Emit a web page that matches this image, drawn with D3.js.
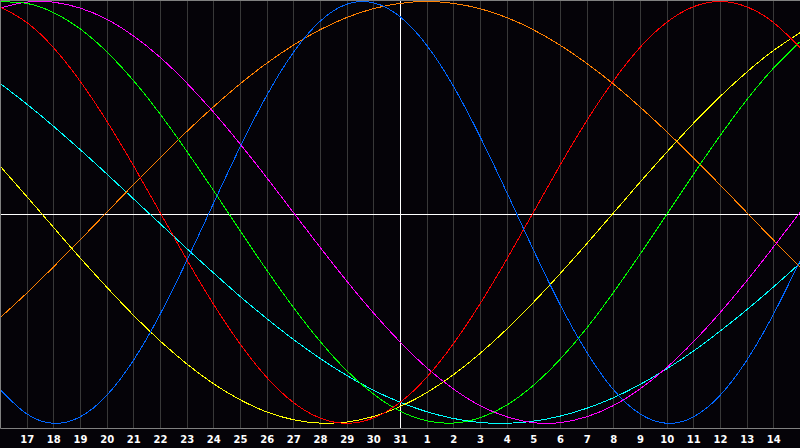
<!DOCTYPE html>
<html>
<head>
<meta charset="utf-8">
<script src="https://cdn.jsdelivr.net/npm/d3@7"></script>
<style>
  html, body { margin: 0; padding: 0; background: #050308; }
  svg { display: block; }
</style>
</head>
<body>
<svg id="chart" width="800" height="448"></svg>
<script>
// day labels, one per day from the 16th to the 15th of next month
var days = [16, 17, 18, 19, 20, 21, 22, 23, 24, 25, 26, 27, 28, 29, 30, 31,
            1, 2, 3, 4, 5, 6, 7, 8, 9, 10, 11, 12, 13, 14, 15];
var today = 31;

// daily values (-1 .. 1)
var physical = [-0.84, -0.955, -1.0, -0.97, -0.868, -0.702, -0.484, -0.23, 0.041, 0.309,
    0.554, 0.758, 0.906, 0.987, 0.994, 0.928, 0.793, 0.599, 0.36, 0.096,
    -0.177, -0.436, -0.662, -0.84, -0.955, -1.0, -0.97, -0.868, -0.702, -0.484, -0.23];
var emotional = [0.975, 0.901, 0.782, 0.623, 0.434, 0.223, 0, -0.223, -0.434, -0.623,
    -0.782, -0.901, -0.975, -1.0, -0.975, -0.901, -0.782, -0.623, -0.434, -0.223,
    0, 0.223, 0.434, 0.623, 0.782, 0.901, 0.975, 1.0, 0.975, 0.901, 0.782];
var intellectual = [0.998, 0.991, 0.948, 0.871, 0.762, 0.626, 0.467, 0.291, 0.105, -0.086,
    -0.273, -0.45, -0.611, -0.75, -0.861, -0.942, -0.988, -0.999, -0.974, -0.914,
    -0.82, -0.697, -0.549, -0.38, -0.199, -0.01, 0.18, 0.363, 0.533, 0.683, 0.809];
var intuitive = [0.969, 0.997, 0.997, 0.969, 0.916, 0.837, 0.736, 0.614, 0.476, 0.325,
    0.165, 0, -0.165, -0.325, -0.476, -0.614, -0.736, -0.837, -0.916, -0.969,
    -0.997, -0.997, -0.969, -0.916, -0.837, -0.736, -0.614, -0.476, -0.325, -0.165, 0];
var aesthetic = [0.22, 0.076, -0.07, -0.215, -0.354, -0.487, -0.609, -0.718, -0.812, -0.888,
    -0.946, -0.983, -0.999, -0.994, -0.968, -0.921, -0.855, -0.77, -0.669, -0.554,
    -0.427, -0.291, -0.149, -0.003, 0.143, 0.285, 0.422, 0.549, 0.665, 0.767, 0.852];
var awareness = [-0.5, -0.383, -0.259, -0.131, 0, 0.131, 0.259, 0.383, 0.5, 0.609,
    0.707, 0.793, 0.866, 0.924, 0.966, 0.991, 1.0, 0.991, 0.966, 0.924,
    0.866, 0.793, 0.707, 0.609, 0.5, 0.383, 0.259, 0.131, 0, -0.131, -0.259];
var spiritual = [0.612, 0.514, 0.409, 0.298, 0.183, 0.065, -0.053, -0.171, -0.286, -0.398,
    -0.503, -0.602, -0.692, -0.773, -0.843, -0.9, -0.945, -0.977, -0.996, -1.0,
    -0.99, -0.966, -0.929, -0.879, -0.816, -0.742, -0.658, -0.563, -0.462, -0.354, -0.241];

var series = [
    {name: 'spiritual', values: spiritual, color: '#00ffff'},
    {name: 'awareness', values: awareness, color: '#ff8000'},
    {name: 'aesthetic', values: aesthetic, color: '#ffff00'},
    {name: 'intuitive', values: intuitive, color: '#ff00ff'},
    {name: 'intellectual', values: intellectual, color: '#00ff00'},
    {name: 'emotional', values: emotional, color: '#ff0000'},
    {name: 'physical', values: physical, color: '#0066ff'}
];

var width = 800, plotH = 428;
var svg = d3.select('#chart');

var x = d3.scaleLinear()
    .domain([0, days.length - 1])
    .range([0, width]);
var y = d3.scaleLinear()
    .domain([-1, 1])
    .range([423.3, 1.5]);

// day gridlines
svg.append('g')
    .selectAll('line')
    .data(days)
    .enter()
    .append('line')
    .attr('x1', function(d, i) { return Math.round(x(i)) + 0.5; })
    .attr('x2', function(d, i) { return Math.round(x(i)) + 0.5; })
    .attr('y1', 0)
    .attr('y2', plotH)
    .attr('stroke', '#383838')
    .attr('stroke-width', 1);

// zero line and today marker
svg.append('line')
    .attr('x1', 0).attr('x2', width)
    .attr('y1', 214.5).attr('y2', 214.5)
    .attr('stroke', '#ffffff')
    .attr('stroke-width', 1);
var ti = days.indexOf(today);
svg.append('line')
    .attr('x1', Math.round(x(ti)) + 0.5).attr('x2', Math.round(x(ti)) + 0.5)
    .attr('y1', 0).attr('y2', plotH)
    .attr('stroke', '#ffffff')
    .attr('stroke-width', 1);

// curves
var line = d3.line()
    .x(function(d, i) { return x(i); })
    .y(function(d) { return y(d); })
    .curve(d3.curveNatural);

svg.append('g')
    .selectAll('path')
    .data(series)
    .enter()
    .append('path')
    .attr('d', function(d) { return line(d.values); })
    .attr('fill', 'none')
    .attr('stroke', function(d) { return d.color; })
    .attr('stroke-width', 1)
    .style('shape-rendering', 'crispEdges');

// frame: top, left, bottom
svg.append('path')
    .attr('d', 'M' + width + ',0.5H0.5V' + (plotH + 0.5) + 'H' + width)
    .attr('fill', 'none')
    .attr('stroke', '#808080')
    .attr('stroke-width', 1);

// day labels
svg.append('g')
    .selectAll('text')
    .data(days)
    .enter()
    .filter(function(d, i) { return i > 0 && i < days.length - 1; })
    .append('text')
    .attr('x', function(d) { return x(days.indexOf(d)) + 0.5; })
    .attr('y', 443)
    .attr('text-anchor', 'middle')
    .attr('fill', '#ffffff')
    .style('font-family', '"DejaVu Sans", sans-serif')
    .style('font-weight', 'bold')
    .style('font-size', '10px')
    .text(function(d) { return d; });
</script>
</body>
</html>
